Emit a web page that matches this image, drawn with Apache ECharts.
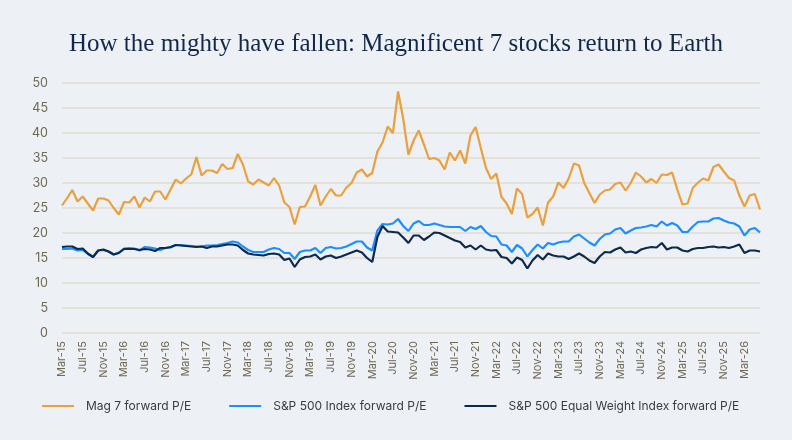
<!DOCTYPE html>
<html>
<head>
<meta charset="utf-8">
<script src="https://cdn.jsdelivr.net/npm/echarts@6/dist/echarts.min.js"></script>
<style>
  html, body { margin: 0; padding: 0; background: #edf0f4; }
  #chart { width: 792px; height: 440px; }
</style>
</head>
<body>
<div id="chart"></div>
<script>
// monthly forward P/E, Mar-15 .. Jun-26
const mag7 = [
  25.5, 27.0, 28.6, 26.3, 27.3, 25.9, 24.5, 26.9, 26.9, 26.5, 25.0, 23.7, 26.2, 26.1, 27.3, 25.1, 27.1, 26.3, 28.3, 28.3, 26.7, 28.7, 30.7, 29.9, 30.9, 31.7, 35.2, 31.5, 32.5, 32.5, 32.0, 33.8, 32.8, 33.0, 35.8,
  33.7, 30.3, 29.7, 30.7, 30.1, 29.5, 31.0, 29.5, 26.1, 25.2, 21.7, 25.2, 25.3, 27.3, 29.6, 25.5, 27.3, 28.8, 27.5, 27.5, 29.1, 30.0, 32.1, 32.7, 31.3, 32.0, 36.3, 38.1, 41.3, 40.0, 48.3, 42.8, 35.7, 38.5,
  40.5, 37.7, 34.8, 35.0, 34.5, 32.7, 36.1, 34.5, 36.5, 33.9, 39.5, 41.2, 37.0, 33.0, 30.8, 31.9, 27.2, 25.9, 23.8, 28.9, 27.8, 23.1, 23.8, 25.1, 21.5, 26.1, 27.3, 30.1, 29.0, 30.9, 33.9, 33.5, 30.0, 28.0,
  26.0, 27.7, 28.5, 28.7, 29.8, 30.1, 28.5, 30.0, 32.1, 31.3, 30.1, 30.8, 30.0, 31.7, 31.6, 32.1, 28.7, 25.7, 25.9, 29.0, 30.1, 30.9, 30.5, 33.2, 33.7, 32.3, 31.0, 30.5, 27.5, 25.3, 27.5, 27.8, 24.7
];
const sp500 = [
  16.8, 16.8, 16.9, 16.5, 16.6, 15.8, 15.2, 16.5, 16.6, 16.3, 15.7, 16.1, 16.9, 17.0, 16.9, 16.5, 17.2, 17.1, 16.9, 16.6, 17.0, 17.1, 17.6, 17.6, 17.5, 17.4, 17.3, 17.3, 17.5, 17.5, 17.6, 17.8, 18.0, 18.3, 18.1,
  17.3, 16.6, 16.2, 16.2, 16.2, 16.7, 17.0, 16.8, 16.0, 16.0, 14.8, 16.2, 16.5, 16.5, 17.0, 16.0, 17.0, 17.2, 16.9, 17.0, 17.3, 17.8, 18.3, 18.3, 17.1, 16.5, 20.5, 21.8, 21.7, 21.9, 22.8, 21.4, 20.4, 21.9,
  22.4, 21.6, 21.6, 21.9, 21.6, 21.3, 21.2, 21.2, 21.2, 20.4, 21.2, 20.8, 21.4, 20.2, 19.4, 19.3, 17.7, 17.5, 16.2, 17.6, 16.9, 15.3, 16.6, 17.7, 16.9, 18.0, 17.7, 18.1, 18.3, 18.3, 19.3, 19.7, 18.9, 18.1,
  17.5, 18.8, 19.7, 19.9, 20.7, 21.0, 19.9, 20.5, 21.0, 21.1, 21.3, 21.6, 21.3, 22.3, 21.5, 22.0, 21.5, 20.2, 20.2, 21.3, 22.2, 22.3, 22.3, 22.9, 23.0, 22.5, 22.1, 21.9, 21.3, 19.5, 20.7, 21.0, 20.1
];
const spEqual = [
  17.2, 17.3, 17.3, 16.8, 16.9, 15.9, 15.2, 16.5, 16.7, 16.3, 15.7, 16.0, 16.8, 16.8, 16.8, 16.6, 16.8, 16.7, 16.4, 17.0, 17.0, 17.2, 17.6, 17.5, 17.4, 17.3, 17.2, 17.3, 17.0, 17.3, 17.3, 17.5, 17.7, 17.7, 17.5,
  16.6, 15.9, 15.7, 15.6, 15.5, 15.8, 15.9, 15.7, 14.6, 14.9, 13.2, 14.7, 15.2, 15.3, 15.7, 14.7, 15.3, 15.5, 15.0, 15.3, 15.7, 16.1, 16.5, 16.1, 15.0, 14.2, 19.2, 21.4, 20.3, 20.2, 20.1, 19.1, 18.0, 19.5,
  19.5, 18.6, 19.3, 20.1, 20.0, 19.5, 19.0, 18.5, 18.2, 17.1, 17.5, 16.7, 17.5, 16.7, 16.5, 16.6, 15.2, 15.0, 13.9, 15.1, 14.6, 12.9, 14.5, 15.6, 14.7, 15.9, 15.5, 15.3, 15.3, 14.8, 15.3, 15.9, 15.3, 14.5,
  14.0, 15.3, 16.2, 16.1, 16.7, 17.1, 16.1, 16.3, 16.0, 16.7, 17.0, 17.2, 17.1, 18.0, 16.7, 17.1, 17.1, 16.5, 16.3, 16.8, 17.0, 17.0, 17.2, 17.3, 17.1, 17.2, 17.0, 17.3, 17.7, 16.0, 16.5, 16.5, 16.3
];

const monthNames = ['Jan', 'Feb', 'Mar', 'Apr', 'May', 'Jun', 'Jul', 'Aug', 'Sep', 'Oct', 'Nov', 'Dec'];
// category labels: Mar-15 onwards, one per month
const months = [];
for (let k = 0; k < mag7.length; k++) {
  const m = (2 + k) % 12;
  const y = 15 + Math.floor((2 + k) / 12);
  months.push(monthNames[m] + '-' + y);
}

const labelColor = '#6f6853';
const chart = echarts.init(document.getElementById('chart'));
const option = {
  backgroundColor: '#edf0f4',
  animation: false,
  title: {
    text: 'How the mighty have fallen: Magnificent 7 stocks return to Earth',
    left: 'center',
    top: 27,
    textStyle: {
      fontFamily: 'Liberation Serif',
      fontWeight: 'normal',
      fontSize: 25,
      color: '#12284a'
    }
  },
  grid: {
    left: 62,
    right: 32,
    top: 83,
    bottom: 107
  },
  legend: {
    left: 37,
    top: 395,
    icon: 'rect',
    itemWidth: 32,
    itemHeight: 2,
    itemGap: 38,
    textStyle: {
      fontFamily: 'Inter',
      fontSize: 12,
      color: '#3c3c3c',
      padding: [0, 0, 0, 7]
    }
  },
  xAxis: {
    type: 'category',
    data: months,
    boundaryGap: false,
    axisLine: { show: false },
    axisTick: { show: false },
    axisLabel: {
      rotate: 90,
      interval: 3,
      margin: 8,
      fontFamily: 'Inter',
      fontSize: 11,
      color: labelColor
    }
  },
  yAxis: {
    type: 'value',
    min: 0,
    max: 50,
    interval: 5,
    axisLine: { show: false },
    axisTick: { show: false },
    axisLabel: {
      margin: 14,
      fontFamily: 'Inter',
      fontSize: 12.5,
      color: labelColor
    },
    splitLine: { lineStyle: { color: '#e1dcd1', width: 1.5 } }
  },
  series: [
    {
      name: 'Mag 7 forward P/E',
      type: 'line',
      data: mag7,
      symbol: 'none',
      lineStyle: { width: 2.2, color: '#e9a03d' },
      itemStyle: { color: '#e9a03d' }
    },
    {
      name: 'S&P 500 Index forward P/E',
      type: 'line',
      data: sp500,
      symbol: 'none',
      lineStyle: { width: 2.2, color: '#1a8fff' },
      itemStyle: { color: '#1a8fff' }
    },
    {
      name: 'S&P 500 Equal Weight Index forward P/E',
      type: 'line',
      data: spEqual,
      symbol: 'none',
      lineStyle: { width: 2.2, color: '#0c2a4c' },
      itemStyle: { color: '#0c2a4c' }
    }
  ]
};
chart.setOption(option);
</script>
</body>
</html>
